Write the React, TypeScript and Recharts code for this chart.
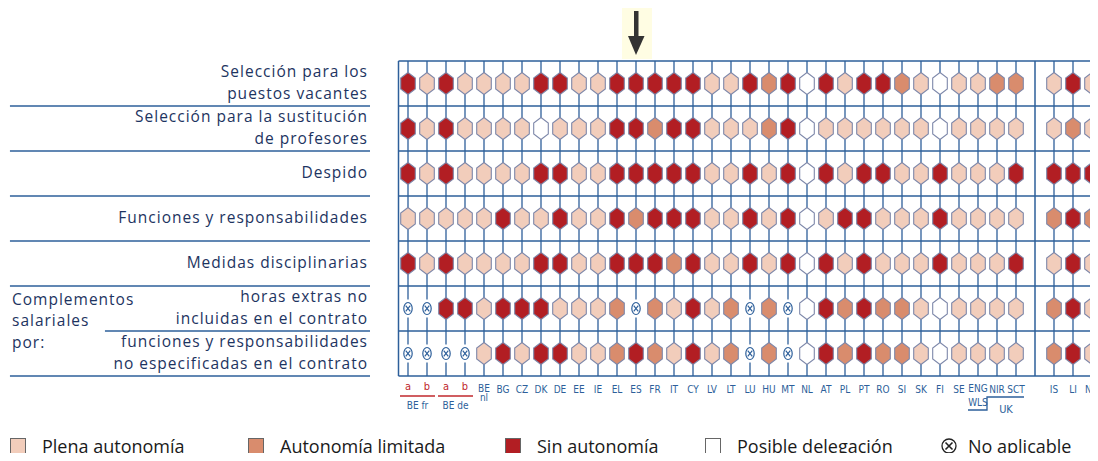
import React from "react";
import { ScatterChart, Scatter, XAxis, YAxis, ReferenceLine, ReferenceDot } from "recharts";

// column codes, left to right (a/b = BE fr, BE de subgroups)
const countries = [
  "a", "b", "a", "b", "BE nl", "BG", "CZ", "DK", "DE", "EE", "IE", "EL", "ES", "FR", "IT", "CY",
  "LV", "LT", "LU", "HU", "MT", "NL", "AT", "PL", "PT", "RO", "SI", "SK", "FI", "SE",
  "ENG", "NIR", "SCT", "IS", "LI", "NO",
];

const rowLabels = [
  ["Selección para los", "puestos vacantes"],
  ["Selección para la sustitución", "de profesores"],
  ["Despido"],
  ["Funciones y responsabilidades"],
  ["Medidas disciplinarias"],
  ["horas extras no", "incluidas en el contrato"],
  ["funciones y responsabilidades", "no especificadas en el contrato"],
];
const groupLabel = ["Complementos", "salariales", "por:"];

// P = plena autonomía, L = autonomía limitada, S = sin autonomía, D = posible delegación, X = no aplicable
const vacantes = "SPSPPPPSSPPS" + "SSSSPPSLSDS" + "PSSLPDPPLL" + "PSP";
const sustitucion = "SPSPPPPDPPPS" + "SLSSPPPLSDP" + "PPPPPDPPPP" + "PLP";
const despido = "SPSPPPPSSPPS" + "SSSSPPSPSDS" + "PSSPPSPPPS" + "SSS";
const funciones = "PPPPPSPPSPPS" + "LSSSPPSPSDP" + "SSPPPSPPPP" + "LSL";
const disciplinarias = "SPSPPPPSSPPS" + "SSLSPPSPSDS" + "PSPPPSPPPS" + "PSP";
const horasExtras = "XXSSPSSSPPPL" + "XLPSPLXLXDS" + "LSLLPDPPPP" + "LSP";
const funcNoEspec = "XXXXPSPSSPPL" + "SLPSPLXLXDS" + "LSLLPDPPPP" + "LSP";
const rows = [vacantes, sustitucion, despido, funciones, disciplinarias, horasExtras, funcNoEspec];

const legendItems = [
  { code: "P", label: "Plena autonomía" },
  { code: "L", label: "Autonomía limitada" },
  { code: "S", label: "Sin autonomía" },
  { code: "D", label: "Posible delegación" },
  { code: "X", label: "No aplicable" },
];

const FILL: Record<string, string> = { P: "#f2cdbb", L: "#d98c6d", S: "#b21e23", D: "#ffffff" };
const BLUE = "#2d5f9a";
const TEXT = "#1d3461";
const FONT = "'Open Sans', sans-serif";
const CODE_FONT = "'DejaVu Sans Condensed', 'DejaVu Sans', sans-serif";

// non-European-Union block sits after a separator column
const colPos = (i: number) => (i < 33 ? i : i + 1);

const cells = rows.flatMap((r, y) => r.split("").map((v, c) => ({ x: colPos(c), y, v })));

function Cell(props: any) {
  const { cx, cy, payload } = props;
  if (payload.v === "X") {
    return (
      <g>
        <rect x={cx - 6} y={cy - 9} width={12} height={18} fill="#fff" />
        <ellipse cx={cx} cy={cy} rx={4.2} ry={6} fill="#fff" stroke={BLUE} strokeWidth={1.2} />
        <path d={`M${cx - 2.3},${cy - 2.8}L${cx + 2.3},${cy + 2.8}M${cx + 2.3},${cy - 2.8}L${cx - 2.3},${cy + 2.8}`} stroke={BLUE} strokeWidth={1.2} />
      </g>
    );
  }
  const w = 7.3, h = 11, k = 5.5;
  const d = `M${cx},${cy - h}L${cx + w},${cy - k}L${cx + w},${cy + k}L${cx},${cy + h}L${cx - w},${cy + k}L${cx - w},${cy - k}Z`;
  return <path d={d} fill={FILL[payload.v]} stroke="#7e88aa" strokeWidth={1.1} />;
}

function RowTick(props: any) {
  const { y, payload } = props;
  const lines = rowLabels[payload.value] || [];
  const lh = 21.2;
  const y0 = y - 1 - ((lines.length - 1) * lh) / 2;
  return (
    <g fontFamily={FONT} fontSize={15.5} fill={TEXT} letterSpacing={1}>
      {lines.map((t, i) => (
        <text key={i} x={368} y={y0 + i * lh} dy="0.35em" textAnchor="end">{t}</text>
      ))}
      {payload.value === 5 &&
        groupLabel.map((t, i) => (
          <text key={"g" + i} x={12} y={y - 9 + i * 21.5} dy="0.35em" textAnchor="start">{t}</text>
        ))}
    </g>
  );
}

function CountryTick(props: any) {
  const { x, y, payload } = props;
  const idx = countries.findIndex((_, i) => colPos(i) === payload.value);
  const code = countries[idx];
  const t = y;
  if (idx >= 0 && idx < 4) {
    return (
      <g fontFamily={CODE_FONT} fontSize={11}>
        <text x={x} y={t + 14} textAnchor="middle" fill="#c0282d">{code}</text>
        {idx % 2 === 0 && (
          <g>
            <line x1={x - 8} x2={x + 27} y1={t + 20} y2={t + 20} stroke="#c0282d" strokeWidth={1.3} />
            <text x={x + 9.5} y={t + 33} textAnchor="middle" fill={BLUE} fontSize={10}>{idx === 0 ? "BE fr" : "BE de"}</text>
          </g>
        )}
      </g>
    );
  }
  if (code === "BE nl") {
    return (
      <g fontFamily={CODE_FONT} fontSize={10} fill={BLUE}>
        <text x={x} y={t + 16} textAnchor="middle">BE</text>
        <text x={x} y={t + 25} textAnchor="middle">nl</text>
      </g>
    );
  }
  if (code === "ENG") {
    return (
      <g fontFamily={CODE_FONT} fontSize={10} fill={BLUE}>
        <text x={x} y={t + 16} textAnchor="middle">ENG</text>
        <text x={x} y={t + 30} textAnchor="middle">WLS</text>
        <path d={`M${x - 10},${t + 34}H${x + 9}V${t + 21}H${x + 46}`} fill="none" stroke={BLUE} strokeWidth={1.3} />
        <text x={x + 28} y={t + 37} textAnchor="middle" fontSize={11}>UK</text>
      </g>
    );
  }
  return (
    <text x={x} y={t + 17} textAnchor="middle" fontFamily={CODE_FONT} fontSize={10} fill={BLUE}>{code}</text>
  );
}

function Arrow(props: any) {
  const { cx, cy } = props;
  return (
    <g>
      <rect x={cx - 14} y={cy - 57} width={30} height={55} fill="#fffde3" />
      <rect x={cx - 2} y={cy - 50} width={4.5} height={28} fill="#333" />
      <path d={`M${cx - 8},${cy - 25}L${cx + 8.5},${cy - 25}L${cx},${cy - 6}Z`} fill="#333" />
    </g>
  );
}

function LegendSwatch({ code }: { code: string }) {
  if (code === "X") {
    return (
      <svg width={18} height={18} style={{ verticalAlign: "middle" }}>
        <circle cx={9} cy={9} r={7} fill="#fff" stroke="#222" strokeWidth={1.3} />
        <path d="M5.5,5.5L12.5,12.5M12.5,5.5L5.5,12.5" stroke="#222" strokeWidth={1.6} />
      </svg>
    );
  }
  return (
    <span style={{ display: "inline-block", width: 14, height: 14, background: FILL[code], border: "1px solid #666", verticalAlign: "middle" }} />
  );
}

const legendX = [10, 248, 505, 705, 940];

export default function App() {
  const hLines = [0, 1, 2, 3, 4, 5, 6, 7].map((k) => k - 0.5);
  return (
    <div style={{ position: "relative", width: 1098, height: 461, overflow: "hidden", margin: -8, background: "#fff" }}>
      <ScatterChart width={1110} height={461} margin={{ top: 61, right: 8.5, left: 0, bottom: 0 }}>
        <XAxis
          type="number"
          dataKey="x"
          domain={[-0.5, 36.5]}
          ticks={countries.map((_, i) => colPos(i))}
          interval={0}
          axisLine={false}
          tickLine={false}
          tickSize={0}
          tickMargin={0}
          height={85}
          tick={<CountryTick />}
        />
        <YAxis
          type="number"
          dataKey="y"
          domain={[-0.5, 6.5]}
          reversed
          ticks={[0, 1, 2, 3, 4, 5, 6]}
          interval={0}
          axisLine={false}
          tickLine={false}
          width={398.5}
          tick={<RowTick />}
        />
        {countries.map((_, i) => (
          <ReferenceLine key={"v" + i} x={colPos(i)} stroke={BLUE} strokeWidth={1.3} />
        ))}
        <ReferenceLine x={-0.5} stroke={BLUE} strokeWidth={1.5} ifOverflow="visible" />
        <ReferenceLine x={33} stroke={BLUE} strokeWidth={1.5} />
        {hLines.map((v) => (
          <ReferenceLine key={"h" + v} y={v} stroke={BLUE} strokeWidth={1.5} ifOverflow="visible" />
        ))}
        {hLines.slice(1).map((v) => (
          <ReferenceLine
            key={"l" + v}
            segment={[{ x: v === 5.5 ? -15.95 : -20.95, y: v }, { x: -2, y: v }]}
            stroke={BLUE}
            strokeWidth={1.3}
            ifOverflow="visible"
          />
        ))}
        <Scatter data={cells} shape={<Cell />} isAnimationActive={false} />
        <ReferenceDot x={colPos(countries.indexOf("ES"))} y={-0.5} r={0} shape={<Arrow />} ifOverflow="visible" />
      </ScatterChart>
      <div style={{ position: "absolute", top: 433, left: 0, width: 1098, height: 30, fontFamily: FONT, fontSize: 18, color: "#1a1a1a" }}>
        {legendItems.map((it, i) => (
          <div key={it.code} style={{ position: "absolute", left: legendX[i], top: 0, whiteSpace: "nowrap", lineHeight: "22px" }}>
            <LegendSwatch code={it.code} />
            <span style={{ marginLeft: it.code === "X" ? 10 : 16, verticalAlign: "middle" }}>{it.label}</span>
          </div>
        ))}
      </div>
    </div>
  );
}
